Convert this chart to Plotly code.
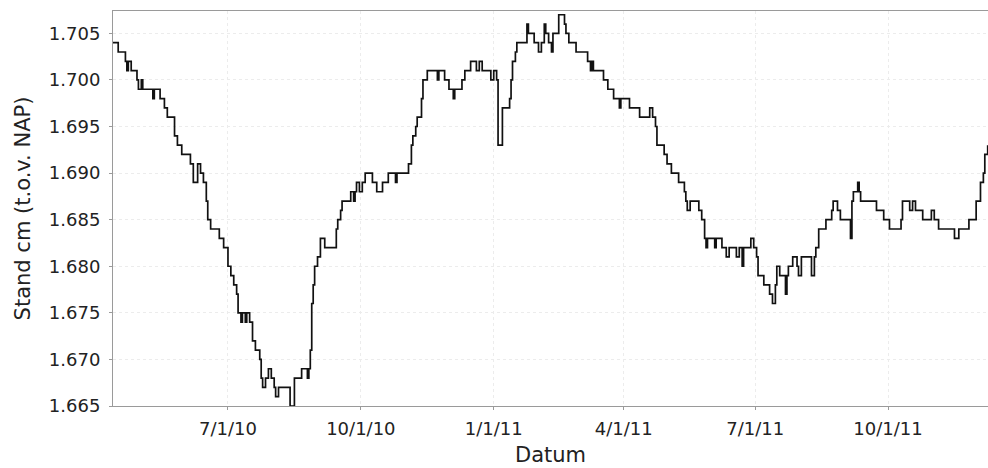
import pandas as pd
import plotly.graph_objects as go

start_date = "2010-04-01"

day_offsets = [11, 15, 20, 21, 22, 24, 28, 29, 31, 32, 39, 40, 44, 47, 49, 54, 56, 59, 65, 67,
               70, 72, 74, 76, 77, 79, 85, 88, 91, 93, 95, 97, 98, 100, 101, 103, 104, 106, 108, 110,
               113, 114, 115, 117, 119, 121, 123, 124, 126, 134, 137, 142, 146, 147, 148, 149, 150, 151, 153, 155,
               158, 166, 167, 169, 170, 176, 178, 179, 180, 182, 184, 186, 191, 194, 198, 202, 207, 208, 216, 218,
               219, 221, 222, 225, 226, 229, 236, 237, 241, 244, 247, 248, 253, 255, 259, 263, 265, 267, 273, 275,
               277, 278, 281, 286, 287, 288, 290, 291, 298, 299, 303, 306, 308, 310, 311, 313, 315, 316, 320, 324,
               325, 327, 332, 340, 342, 343, 344, 351, 354, 358, 362, 363, 369, 376, 383, 385, 387, 388, 393, 395,
               398, 403, 407, 408, 409, 411, 417, 419, 421, 422, 423, 428, 429, 433, 436, 438, 443, 445, 447, 448,
               453, 455, 457, 458, 462, 466, 468, 470, 471, 473, 477, 478, 479, 482, 485, 486, 488, 495, 497, 498,
               500, 505, 509, 510, 513, 515, 522, 523, 524, 527, 528, 529, 540, 545, 549, 557, 558, 563, 565, 567,
               572, 578, 580, 583, 594, 597, 604, 609, 612, 614, 615, 617]

stand = [1.704, 1.703, 1.702, 1.701, 1.702, 1.701, 1.700, 1.699, 1.700, 1.699, 1.698, 1.699, 1.698, 1.697, 1.696, 1.694, 1.693, 1.692, 1.691, 1.689,
         1.691, 1.690, 1.689, 1.687, 1.685, 1.684, 1.683, 1.682, 1.680, 1.679, 1.678, 1.677, 1.675, 1.674, 1.675, 1.674, 1.675, 1.674, 1.672, 1.671,
         1.670, 1.668, 1.667, 1.668, 1.669, 1.668, 1.667, 1.666, 1.667, 1.665, 1.668, 1.669, 1.668, 1.669, 1.671, 1.676, 1.678, 1.680, 1.681, 1.683,
         1.682, 1.684, 1.685, 1.686, 1.687, 1.688, 1.687, 1.688, 1.689, 1.688, 1.689, 1.690, 1.689, 1.688, 1.689, 1.690, 1.689, 1.690, 1.691, 1.693,
         1.694, 1.695, 1.696, 1.698, 1.700, 1.701, 1.700, 1.701, 1.700, 1.699, 1.698, 1.699, 1.700, 1.701, 1.702, 1.701, 1.702, 1.701, 1.700, 1.701,
         1.700, 1.693, 1.697, 1.698, 1.700, 1.702, 1.703, 1.704, 1.706, 1.705, 1.704, 1.703, 1.704, 1.706, 1.705, 1.704, 1.703, 1.705, 1.707, 1.706,
         1.705, 1.704, 1.703, 1.702, 1.701, 1.702, 1.701, 1.700, 1.699, 1.698, 1.697, 1.698, 1.697, 1.696, 1.697, 1.696, 1.695, 1.693, 1.692, 1.691,
         1.690, 1.689, 1.688, 1.687, 1.686, 1.687, 1.686, 1.685, 1.683, 1.682, 1.683, 1.682, 1.683, 1.682, 1.681, 1.682, 1.681, 1.682, 1.680, 1.682,
         1.683, 1.682, 1.681, 1.679, 1.678, 1.677, 1.676, 1.678, 1.680, 1.679, 1.677, 1.679, 1.680, 1.681, 1.680, 1.679, 1.681, 1.679, 1.681, 1.682,
         1.684, 1.685, 1.686, 1.687, 1.686, 1.685, 1.683, 1.687, 1.688, 1.689, 1.688, 1.687, 1.686, 1.685, 1.684, 1.685, 1.687, 1.686, 1.687, 1.686,
         1.685, 1.686, 1.685, 1.684, 1.683, 1.684, 1.685, 1.687, 1.689, 1.690, 1.692, 1.693]

x_tick_dates = ["2010-07-01", "2010-10-01", "2011-01-01", "2011-04-01", "2011-07-01", "2011-10-01"]
x_tick_labels = ["7/1/10", "10/1/10", "1/1/11", "4/1/11", "7/1/11", "10/1/11"]
y_tick_values = [1.665, 1.670, 1.675, 1.680, 1.685, 1.690, 1.695, 1.700, 1.705]

dates = pd.to_datetime(start_date) + pd.to_timedelta(day_offsets, unit="D")

fig = go.Figure()
fig.add_trace(go.Scatter(
    x=dates, y=stand, mode="lines", line_shape="hv",
    line=dict(color="#111111", width=1.7), showlegend=False,
))

font_family = "DejaVu Sans"
fig.update_layout(
    width=988, height=468,
    margin=dict(l=113, r=0, t=11, b=62, autoexpand=False),
    paper_bgcolor="white", plot_bgcolor="white",
    font=dict(family=font_family, color="#222222", size=18),
    xaxis=dict(
        range=["2010-04-12 09:36", "2011-12-09 05:00"],
        tickvals=x_tick_dates, ticktext=x_tick_labels,
        tickfont=dict(size=18, color="#222222"),
        showgrid=True, gridcolor="#ececec", griddash="dot", gridwidth=1,
        showline=True, linecolor="#9a9a9a", linewidth=1, mirror=True,
        ticks="outside", ticklen=3, tickcolor="#9a9a9a",
        ticklabelstandoff=3,
        zeroline=False, automargin=False,
        title=dict(text="Datum", font=dict(size=21, color="#222222"), standoff=9),
    ),
    yaxis=dict(
        range=[1.665, 1.7074],
        tickvals=y_tick_values, tickformat=".3f",
        tickfont=dict(size=18, color="#222222"),
        showgrid=True, gridcolor="#ececec", griddash="dot", gridwidth=1,
        showline=True, linecolor="#9a9a9a", linewidth=1,
        ticks="outside", ticklen=3, tickcolor="#9a9a9a",
        ticklabelstandoff=5,
        zeroline=False, automargin=False,
        title=dict(text="Stand cm (t.o.v. NAP)", font=dict(size=21, color="#222222"), standoff=12),
    ),
)

fig.write_html(
    "out.html",
    config={"displayModeBar": False},
    post_script="document.body.style.margin='0';document.body.style.overflow='hidden';",
)
